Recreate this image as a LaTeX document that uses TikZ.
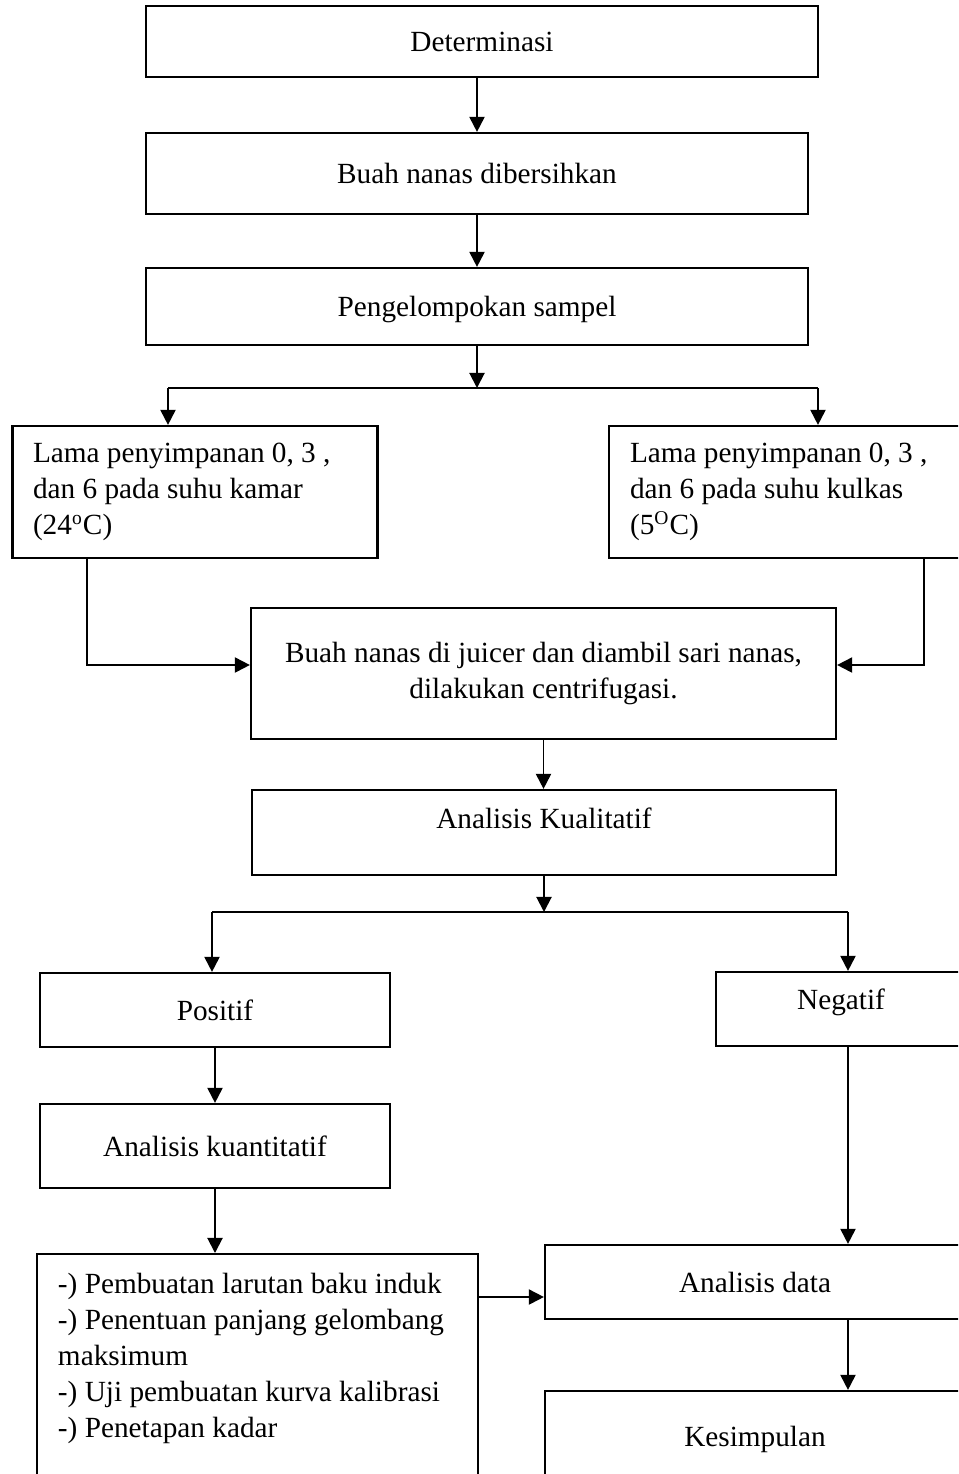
\documentclass[tikz,border=0pt]{standalone}
\usepackage{fontspec}
\setmainfont{Liberation Serif}
\usetikzlibrary{arrows.meta}
\tikzset{
    x=0.41pt, y=-0.41pt, % one unit is one pixel of the page, y runs down
    box/.style={draw, line width=0.9pt, inner sep=0pt,
        font=\fontsize{12}{14.76}\selectfont}, % every frame
    one/.style={box, text height=10.8pt, text depth=2.6pt}, % one line of text
    many/.style={box, align=flush left, text width=132.84pt, inner xsep=8.4pt}, % several lines
    arr/.style={line width=0.8pt, -{Triangle[width=6.2pt,length=6.2pt]}},
    split/.style={line width=0.5pt}, % the branch lines
}
\begin{document}
\begin{tikzpicture}
  \useasboundingbox (0,0) rectangle (958,1474);
  \clip (0,0) rectangle (958,1474);

  % main column
  \node[one, minimum width=275.52pt, minimum height=29.11pt] (det) at (482,41.5) {Determinasi};
  \node[one, minimum width=271.42pt, minimum height=33.21pt] (bersih) at (477,173.5) {Buah nanas dibersihkan};
  \node[one, minimum width=271.42pt, minimum height=31.57pt] (grup) at (477,306.5) {Pengelompokan sampel};

  \node[many, minimum height=54.12pt] (kamar) at (195,492)
      {Lama penyimpanan 0, 3 ,\\ dan 6 pada suhu kamar\\ (24\textsuperscript{o}C)};
  \node[many, minimum height=54.12pt, inner xsep=8.6pt] (kulkas) at (792,492)
      {Lama penyimpanan 0, 3 ,\\ dan 6 pada suhu kulkas\\ (5\textsuperscript{O}C)};

  \node[box, align=center, minimum width=239.85pt, minimum height=53.71pt] (sari) at (543.5,673.5)
      {Buah nanas di juicer dan diambil sari nanas,\\ dilakukan centrifugasi.};
  \node[box, text height=8.2pt, text depth=11.1pt, minimum width=239.44pt, minimum height=34.85pt] (kual) at (544,832.5)
      {Analisis Kualitatif};

  % two branches
  \node[one, minimum width=143.5pt, minimum height=30.34pt] (pos) at (215,1010) {Positif};
  \node[box, text height=8.2pt, text depth=7.4pt, minimum width=102.5pt, minimum height=30.34pt] (neg) at (841,1009) {Negatif};
  \node[one, minimum width=143.5pt, minimum height=34.44pt] (kuant) at (215,1146) {Analisis kuantitatif};
  \node[box, align=flush left, text width=163.6pt, inner xsep=8.6pt, inner ysep=7.8pt, anchor=north] (uji) at (257.5,1253)
      {-) Pembuatan larutan baku induk\\ -) Penentuan panjang gelombang\\ maksimum\\ -) Uji pembuatan kurva kalibrasi\\ -) Penetapan kadar\\ \mbox{}\\ \mbox{}};
  \node[one, minimum width=172.2pt, minimum height=30.34pt] (data) at (755,1282) {Analisis data};
  \node[one, minimum width=172.2pt, minimum height=37.31pt] (simpul) at (755,1436.5) {Kesimpulan};

  \coordinate (b_l) at (168,388);
  \coordinate (b_r) at (818,388);
  \coordinate (m_l) at (87,665);
  \coordinate (m_r) at (924,665);
  \coordinate (c_l) at (212,912);
  \coordinate (c_r) at (848,912);
  \coordinate (u_d) at (478,1297);

  \draw[arr] (det.south -| bersih) -- (bersih.north);
  \draw[arr] (bersih) -- (grup);
  \draw[arr] (grup.south) -- (grup.south |- b_l);
  \draw[split] (b_l) -- (b_r);
  \draw[arr] (b_l) -- (b_l |- kamar.north);
  \draw[arr] (b_r) -- (b_r |- kulkas.north);
  \draw[arr] (kamar.south -| m_l) -- (m_l) -- (m_l -| sari.west);
  \draw[arr] (kulkas.south -| m_r) -- (m_r) -- (m_r -| sari.east);
  \draw[arr] (sari.south) -- (sari.south |- kual.north);
  \draw[arr] (kual.south) -- (kual.south |- c_l);
  \draw[split] (c_l) -- (c_r);
  \draw[arr] (c_l) -- (c_l |- pos.north);
  \draw[arr] (c_r) -- (c_r |- neg.north);
  \draw[arr] (pos) -- (kuant);
  \draw[arr] (kuant.south) -- (kuant.south |- uji.north);
  \draw[arr] (neg.south -| c_r) -- (data.north -| c_r);
  \draw[arr] (data.south -| c_r) -- (simpul.north -| c_r);
  \draw[arr] (uji.east |- u_d) -- (data.west |- u_d);
\end{tikzpicture}
\end{document}
